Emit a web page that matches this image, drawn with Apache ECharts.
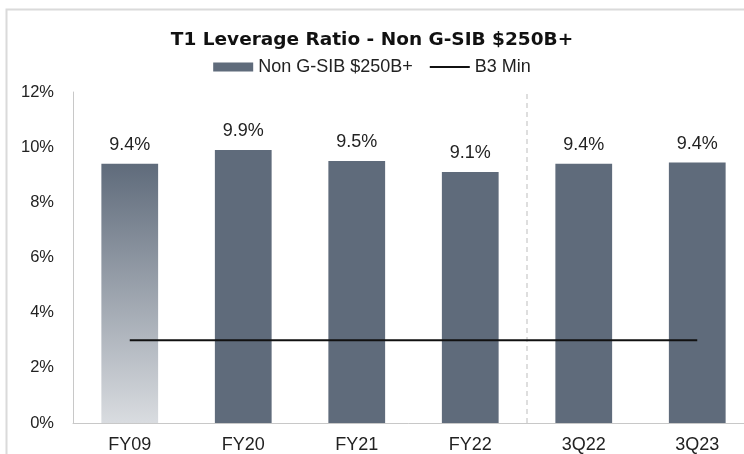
<!DOCTYPE html>
<html>
<head>
<meta charset="utf-8">
<script src="https://cdn.jsdelivr.net/npm/echarts@6/dist/echarts.min.js"></script>
<style>
  html, body { margin: 0; padding: 0; background: #ffffff; }
  #chart { width: 744px; height: 454px; }
</style>
</head>
<body>
<div id="chart"></div>
<script>
// T1 leverage ratio by period, non G-SIB banks above $250B
const categories = ['FY09', 'FY20', 'FY21', 'FY22', '3Q22', '3Q23'];
const leverageRatio = [9.4, 9.9, 9.5, 9.1, 9.4, 9.44];
const b3Minimum = [3, 3, 3, 3, 3, 3];
const yTicks = [0, 2, 4, 6, 8, 10, 12];
// divider between annual and quarterly periods (position on a 0..6 band scale)
const dividerPosition = [4];

const FONT = '"Liberation Sans", Arial, sans-serif';
const BAR = '#5f6b7b';

const chart = echarts.init(document.getElementById('chart'), null, { renderer: 'canvas' });

const barData = leverageRatio.map((v, i) => {
  if (i === 0) {
    return {
      value: v,
      itemStyle: {
        color: new echarts.graphic.LinearGradient(0, 0, 0, 1, [
          { offset: 0, color: '#5f6b7b' },
          { offset: 1, color: '#d9dce0' }
        ])
      }
    };
  }
  return v;
});

chart.setOption({
  animation: false,
  textStyle: { fontFamily: FONT },
  graphic: [{
    type: 'rect',
    left: 4, top: 7,
    shape: { width: 800, height: 500 },
    style: { fill: 'none', stroke: '#dadada', lineWidth: 2 },
    silent: true,
    z: -1
  }],
  title: {
    text: 'T1 Leverage Ratio - Non G-SIB $250B+',
    left: 'center',
    top: 26,
    textStyle: { fontFamily: '"DejaVu Sans", sans-serif', fontSize: 18.5, fontWeight: 'bold', color: '#111' }
  },
  legend: {
    top: 53,
    left: 'center',
    itemWidth: 40,
    itemHeight: 9,
    itemGap: 17,
    textStyle: { fontFamily: FONT, fontSize: 18, color: '#222' },
    data: [
      { name: 'Non G-SIB $250B+', icon: 'rect' },
      { name: 'B3 Min', icon: 'path://M0,0H40V2H0Z' }
    ]
  },
  grid: { left: 73, top: 92, width: 681, height: 331, containLabel: false, outerBoundsMode: 'none' },
  xAxis: [{
    type: 'category',
    data: categories,
    axisLine: { lineStyle: { color: '#c8c8c8', width: 1 } },
    axisTick: { show: false },
    axisLabel: { fontFamily: FONT, fontSize: 18, color: '#222', margin: 13 }
  }, {
    type: 'value',
    min: 0, max: 6,
    show: false
  }],
  yAxis: {
    type: 'value',
    min: yTicks[0],
    max: yTicks[yTicks.length - 1],
    interval: 2,
    axisLine: { show: true, lineStyle: { color: '#c8c8c8', width: 1 } },
    axisTick: { show: false },
    splitLine: { show: false },
    axisLabel: {
      fontFamily: FONT, fontSize: 16.5, color: '#222', margin: 19,
      formatter: v => v + '%'
    }
  },
  series: [{
    name: 'Non G-SIB $250B+',
    type: 'bar',
    data: barData,
    barWidth: '50%',
    itemStyle: { color: BAR },
    label: {
      show: true,
      position: 'top',
      distance: 10,
      fontFamily: FONT, fontSize: 18, color: '#222',
      formatter: p => p.value.toFixed(1) + '%'
    },
    z: 2
  }, {
    name: 'B3 Min',
    type: 'line',
    data: b3Minimum,
    symbol: 'none',
    lineStyle: { color: '#111', width: 2 },
    itemStyle: { color: '#111' },
    z: 3
  }, {
    name: 'divider',
    type: 'line',
    xAxisIndex: 1,
    data: dividerPosition.flatMap(x => [[x, 0], [x, 12]]),
    symbol: 'none',
    lineStyle: { color: '#bdbdbd', width: 1, type: [5, 4] },
    silent: true,
    z: 1
  }]
});
</script>
</body>
</html>
